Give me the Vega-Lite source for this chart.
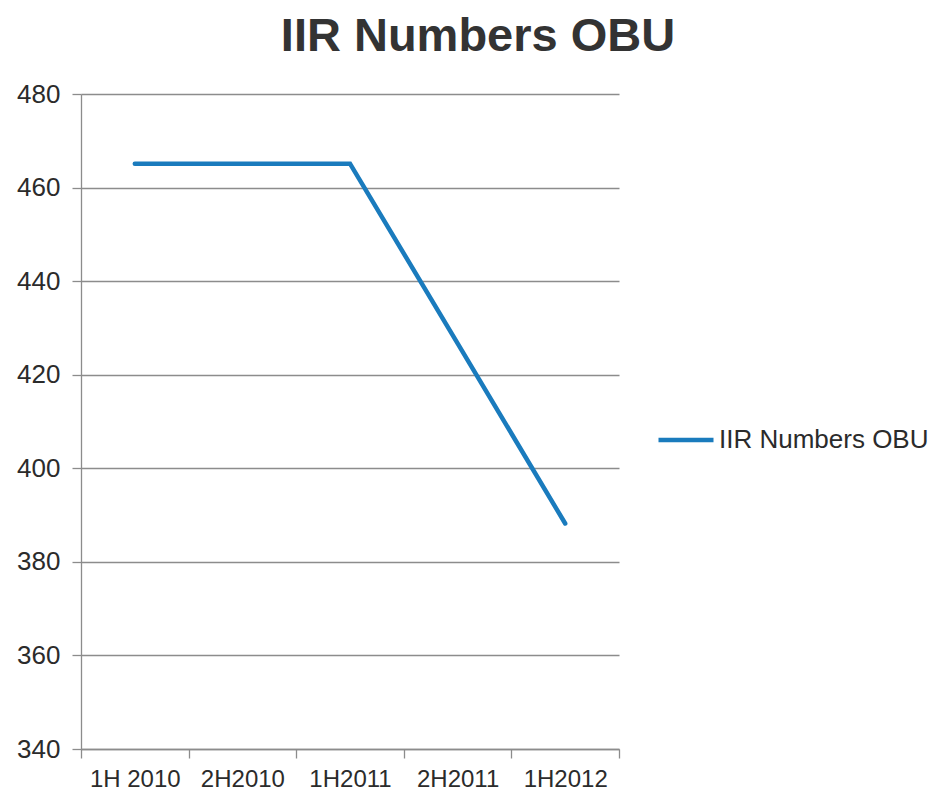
{
  "$schema": "https://vega.github.io/schema/vega-lite/v6.json",
  "width": 538,
  "height": 655,
  "autosize": "none",
  "padding": {"left": 81, "top": 94, "right": 313, "bottom": 43},
  "background": "white",
  "title": {
    "text": "IIR Numbers OBU",
    "font": "Liberation Sans",
    "fontSize": 47,
    "fontWeight": "bold",
    "color": "#333333",
    "anchor": "middle",
    "dx": 128,
    "offset": 20
  },
  "data": {
    "values": [
      {"period": "1H 2010", "value": 465.1, "series": "IIR Numbers OBU"},
      {"period": "2H2010", "value": 465.1, "series": "IIR Numbers OBU"},
      {"period": "1H2011", "value": 465.1, "series": "IIR Numbers OBU"},
      {"period": "2H2011", "value": 426.7, "series": "IIR Numbers OBU"},
      {"period": "1H2012", "value": 388.2, "series": "IIR Numbers OBU"}
    ]
  },
  "mark": {"type": "line", "strokeWidth": 4.5, "strokeCap": "round", "strokeJoin": "miter"},
  "encoding": {
    "x": {
      "field": "period",
      "type": "ordinal",
      "sort": null,
      "scale": {"type": "band", "paddingInner": 0, "paddingOuter": 0},
      "axis": {
        "title": null,
        "labelAngle": 0,
        "tickBand": "extent",
        "ticks": true,
        "tickSize": 9,
        "tickColor": "#8c8c8c",
        "tickWidth": 1.3,
        "domainColor": "#8c8c8c",
        "domainWidth": 1.3,
        "labelFont": "Liberation Sans",
        "labelFontSize": 24,
        "labelColor": "#2b2b2b",
        "labelPadding": 9,
        "grid": false
      }
    },
    "y": {
      "field": "value",
      "type": "quantitative",
      "scale": {"domain": [340, 480], "nice": false, "zero": false},
      "axis": {
        "title": null,
        "values": [340, 360, 380, 400, 420, 440, 460, 480],
        "grid": true,
        "gridColor": "#8c8c8c",
        "gridWidth": 1.3,
        "domainColor": "#8c8c8c",
        "domainWidth": 1.3,
        "tickSize": 9,
        "tickColor": "#8c8c8c",
        "tickWidth": 1.3,
        "labelFont": "Liberation Sans",
        "labelFontSize": 26,
        "labelColor": "#2b2b2b",
        "labelPadding": 12
      }
    },
    "color": {
      "field": "series",
      "type": "nominal",
      "scale": {"range": ["#1a7bbd"]},
      "legend": {
        "title": null,
        "orient": "none",
        "legendX": 575,
        "legendY": 316,
        "padding": 0,
        "symbolType": "stroke",
        "symbolSize": 3025,
        "symbolStrokeWidth": 4.5,
        "labelFont": "Liberation Sans",
        "labelFontSize": 26,
        "labelColor": "#2b2b2b",
        "labelOffset": 3,
        "labelLimit": 400
      }
    }
  },
  "config": {"view": {"stroke": null}}
}
